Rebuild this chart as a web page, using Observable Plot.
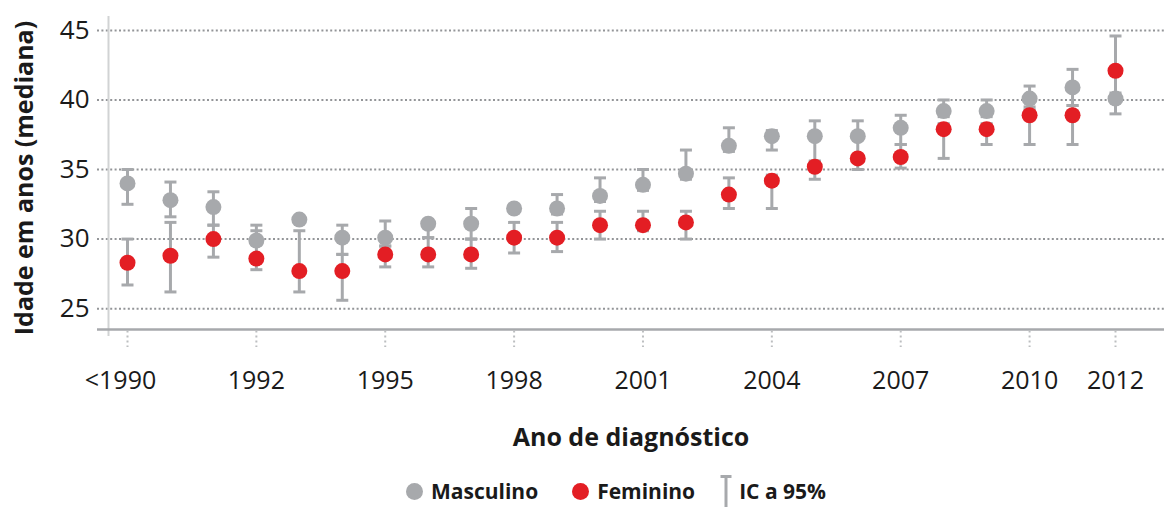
<!DOCTYPE html>
<html><head><meta charset="utf-8">
<script src="https://cdn.jsdelivr.net/npm/d3@7"></script>
<script src="https://cdn.jsdelivr.net/npm/@observablehq/plot@0.6"></script>
<style>
body{margin:0;background:#fff;font-family:"Open Sans",sans-serif;color:#1a1a1a;}
#chart svg{display:block;}
#legend{height:32px;padding-top:5px;display:flex;justify-content:center;align-items:center;padding-left:68px;font-weight:700;font-size:21px;color:#1a1a1a;}
#legend .item{display:flex;align-items:center;margin:0 17px;}
#legend .item.ci{margin-left:8px;}
#legend .sw{margin-right:8px;display:block;}
</style></head><body>
<div id="chart"></div>
<div id="legend"></div>
<script>
const categories = ["<1990","1990","1991","1992","1993","1994","1995","1996","1997","1998","1999","2000","2001","2002","2003","2004","2005","2006","2007","2008","2009","2010","2011","2012"];
const xTickLabels = ["<1990","1992","1995","1998","2001","2004","2007","2010","2012"];
const yTicks = [25,30,35,40,45];

const mascValues = [34.0,32.8,32.3,29.9,31.4,30.1,30.1,31.1,31.1,32.2,32.2,33.1,33.9,34.7,36.7,37.4,37.4,37.4,38.0,39.2,39.2,40.1,40.9,40.1];
const mascLow    = [32.5,31.6,31.0,29.6,null,28.9,29.5,30.1,30.0,null,31.8,32.7,33.5,34.3,36.3,36.4,35.6,36.0,36.8,38.8,38.8,39.5,39.6,39.0];
const mascHigh   = [35.0,34.1,33.4,31.0,null,31.0,31.3,31.3,32.2,null,33.2,34.4,35.0,36.4,38.0,37.8,38.5,38.5,38.9,40.0,40.0,41.0,42.2,40.5];

const femValues  = [28.3,28.8,30.0,28.6,27.7,27.7,28.9,28.9,28.9,30.1,30.1,31.0,31.0,31.2,33.2,34.2,35.2,35.8,35.9,37.9,37.9,38.9,38.9,42.1];
const femLow     = [26.7,26.2,28.7,27.8,26.2,25.6,28.0,28.0,27.9,29.0,29.1,30.0,30.6,30.0,32.2,32.2,34.3,35.0,35.1,35.8,36.8,36.8,36.8,40.1];
const femHigh    = [30.0,31.2,31.0,30.6,30.6,28.9,29.5,30.1,30.0,31.2,31.2,32.0,32.0,32.0,34.4,34.6,35.6,36.0,36.8,38.3,38.3,39.3,39.6,44.6];

const seriesNames = ["Masculino","Feminino"];
const seriesColors = ["#a7a9ac","#e31e24"];
const ciColor = "#a7a9ac";
const ciLabel = "IC a 95%";
const xTitle = "Ano de diagnóstico";
const yTitle = "Idade em anos (mediana)";

// x positions are category indices (ordinal), labelled with the category names
const idx = c => categories.indexOf(c);
const rowsM = categories.map((c,i)=>({i, v:mascValues[i], lo:mascLow[i], hi:mascHigh[i]}));
const rowsF = categories.map((c,i)=>({i, v:femValues[i], lo:femLow[i], hi:femHigh[i]}));
const ciRows = [...rowsM, ...rowsF].filter(d => d.lo != null && d.hi != null);
const xTickIdx = xTickLabels.map(idx);

const capSymbol = {draw(ctx, size){ const r = Math.sqrt(size/Math.PI); ctx.moveTo(-r,0); ctx.lineTo(r,0); }};
const xAxisOpts = {tickSize: 0, tickPadding: 42, fontSize: 25, label: null, tickFormat: i => categories[i]};

const chart = Plot.plot({
  width: 1164, height: 470,
  marginLeft: 97, marginRight: 0, marginTop: 16, marginBottom: 141,
  style: {fontFamily: '"Open Sans", sans-serif', color: "#1a1a1a", background: "#fff", overflow: "visible"},
  x: {type: "linear", domain: [0, categories.length - 1], insetLeft: 30, insetRight: 49},
  y: {domain: [23.5, 46]},
  marks: [
    Plot.ruleY(yTicks, {stroke: "#939598", strokeWidth: 2, strokeDasharray: "2,2.4"}),
    Plot.ruleX([0], {y1: 23.0, y2: 46, dx: -19, stroke: "#d1d3d4", strokeWidth: 2}),
    Plot.ruleY([23.5], {stroke: "#a7a9ac", strokeWidth: 2.5}),
    Plot.ruleX(xTickIdx, {y1: 23.4, y2: 22.2, stroke: "#bcbec0", strokeWidth: 2, strokeDasharray: "2,3"}),
    Plot.axisY(yTicks, {tickSize: 0, tickPadding: 8, fontSize: 26, label: null}),
    Plot.axisX(xTickIdx.slice(0, 1), {...xAxisOpts, dx: -7}),
    Plot.axisX(xTickIdx.slice(1), xAxisOpts),
    Plot.ruleX(ciRows, {x: "i", y1: "lo", y2: "hi", stroke: ciColor, strokeWidth: 3}),
    Plot.dot(ciRows, {x: "i", y: "lo", symbol: capSymbol, r: 6, stroke: ciColor, strokeWidth: 3, fill: "none"}),
    Plot.dot(ciRows, {x: "i", y: "hi", symbol: capSymbol, r: 6, stroke: ciColor, strokeWidth: 3, fill: "none"}),
    Plot.dot(rowsM, {x: "i", y: "v", r: 8, fill: seriesColors[0]}),
    Plot.dot(rowsF, {x: "i", y: "v", r: 8, fill: seriesColors[1]}),
    Plot.text([xTitle], {frameAnchor: "bottom", dy: 116, fontSize: 25, fontWeight: 700}),
    Plot.text([yTitle], {frameAnchor: "left", textAnchor: "middle", dx: -73, dy: 5, rotate: -90, fontSize: 25, fontWeight: 700})
  ]
});
document.getElementById("chart").appendChild(chart);

const legend = document.getElementById("legend");
seriesNames.forEach((name, i) => {
  const it = document.createElement("div");
  it.className = "item";
  it.innerHTML = `<svg class="sw" width="17" height="17"><circle cx="8.5" cy="8.5" r="8.5" fill="${seriesColors[i]}"/></svg><span>${name}</span>`;
  legend.appendChild(it);
});
const ci = document.createElement("div");
ci.className = "item ci";
ci.innerHTML = `<svg class="sw" width="12" height="32" style="margin-right:7px"><line x1="6" x2="6" y1="1.5" y2="32" stroke="${ciColor}" stroke-width="3"/><line x1="0.5" x2="11.5" y1="1.5" y2="1.5" stroke="${ciColor}" stroke-width="3"/></svg><span>${ciLabel}</span>`;
legend.appendChild(ci);
</script>
</body></html>
